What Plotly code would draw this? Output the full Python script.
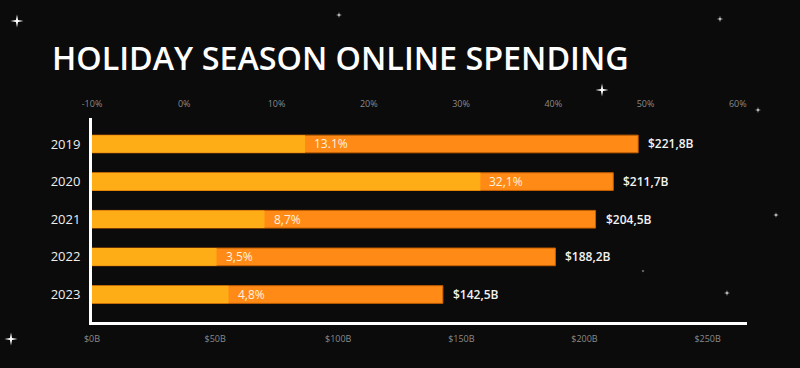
import plotly.graph_objects as go

# ---- data ----
years = ["2019", "2020", "2021", "2022", "2023"]
spending_b = [221.8, 211.7, 204.5, 188.2, 142.5]
spending_labels = ["$221,8B", "$211,7B", "$204,5B", "$188,2B", "$142,5B"]
growth_pct = [13.1, 32.1, 8.7, 3.5, 4.8]
growth_labels = ["13.1%", "32,1%", "8,7%", "3,5%", "4,8%"]
spend_ticks = [0, 50, 100, 150, 200, 250]
spend_ticktext = ["$0B", "$50B", "$100B", "$150B", "$200B", "$250B"]
growth_ticks = [-10, 0, 10, 20, 30, 40, 50, 60]
growth_ticktext = ["-10%", "0%", "10%", "20%", "30%", "40%", "50%", "60%"]
growth_base = -10
title = "HOLIDAY SEASON ONLINE SPENDING"

# ---- layout geometry (pixels) ----
W, H = 800, 368
L, R, T, B = 92, 53, 118, 46
PW, PH = W - L - R, H - T - B

def px(x):
    return (x - L) / PW

def py(y):
    return (H - B - y) / PH

BG = "#0b0b0b"
DARK = "#FF8A16"
LIGHT = "#FFAD17"
FONT = "Open Sans"

fig = go.Figure()
fig.add_trace(go.Bar(
    y=years, x=spending_b, orientation="h", xaxis="x", yaxis="y",
    width=0.47, marker=dict(color=DARK, line=dict(color="#C65F00", width=1)),
    hoverinfo="skip", showlegend=False,
))
fig.add_trace(go.Bar(
    y=years, x=[g - growth_base for g in growth_pct], base=growth_base,
    orientation="h", xaxis="x2", yaxis="y",
    width=0.47, marker=dict(color=LIGHT, line=dict(width=0)),
    hoverinfo="skip", showlegend=False,
))

annotations = []
for i, (v, t) in enumerate(zip(spending_b, spending_labels)):
    annotations.append(dict(x=v, y=i, xref="x", yref="y", text=t, showarrow=False,
                            xanchor="left", xshift=8,
                            font=dict(family=FONT, size=12, color="#f2f2f2", weight=600)))
for i, (g, t) in enumerate(zip(growth_pct, growth_labels)):
    annotations.append(dict(x=g, y=i, xref="x2", yref="y", text=t, showarrow=False,
                            xanchor="left", xshift=7,
                            font=dict(family=FONT, size=12, color="#fff3e0")))
annotations.append(dict(x=px(50), y=py(57), xref="paper", yref="paper", text=title,
                        showarrow=False, xanchor="left", yanchor="middle",
                        font=dict(family=FONT, size=32.3, color="#ffffff", weight=600)))

# decorative sparkles (cx, cy, r) in pixels
stars = [(17, 21, 6.5), (339, 15, 3), (720, 19, 3.2), (185, 57, 3), (602, 90, 6.5),
         (758, 110, 3), (776, 215, 2.8), (643, 271, 1.6), (727, 293, 3), (11, 339, 6.5)]
shapes = []
for cx, cy, r in stars:
    w = r * 0.16
    pts = [(cx, cy - r), (cx + w, cy - w), (cx + r, cy), (cx + w, cy + w),
           (cx, cy + r), (cx - w, cy + w), (cx - r, cy), (cx - w, cy - w)]
    path = "M " + " L ".join(f"{px(a):.5f},{py(b):.5f}" for a, b in pts) + " Z"
    shapes.append(dict(type="path", path=path, xref="paper", yref="paper",
                       fillcolor="#ffffff", line=dict(width=0), layer="above"))

tickfont = dict(family=FONT, size=9, color="#8a8a8a")
fig.update_layout(
    width=W, height=H,
    margin=dict(l=L, r=R, t=T, b=B, pad=0),
    paper_bgcolor=BG, plot_bgcolor=BG,
    barmode="overlay",
    xaxis=dict(range=[0, 266], tickvals=spend_ticks, ticktext=spend_ticktext,
               showgrid=False, zeroline=False, showline=True, linecolor="#ffffff",
               linewidth=3, ticks="", tickfont=tickfont, ticklabelstandoff=6,
               fixedrange=True),
    xaxis2=dict(range=[-10, 61], overlaying="x", side="top", tickvals=growth_ticks,
                ticktext=growth_ticktext, showgrid=False, zeroline=False,
                showline=False, ticks="", tickfont=tickfont, ticklabelstandoff=8,
                fixedrange=True),
    yaxis=dict(type="category", range=[4.73, -0.69], showgrid=False, zeroline=False,
               showline=True, linecolor="#ffffff", linewidth=3, ticks="",
               tickfont=dict(family=FONT, size=13, color="#eeeeee"),
               ticklabelstandoff=6, fixedrange=True),
    annotations=annotations,
    shapes=shapes,
)

fig.write_html("out.html", config={"displayModeBar": False},
               post_script="document.body.style.margin='0px';")
